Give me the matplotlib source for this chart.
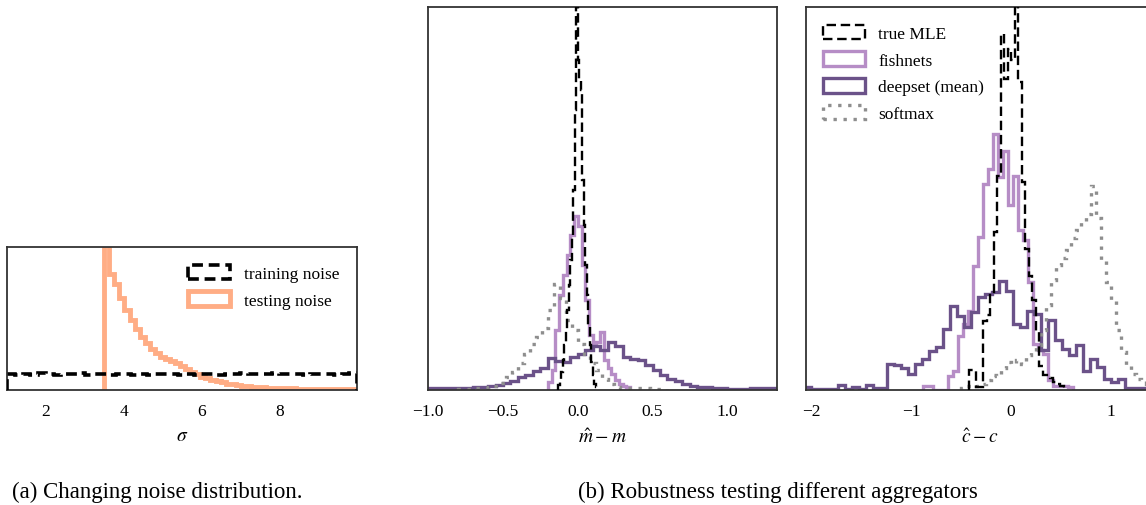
import numpy as np
import matplotlib
matplotlib.use("Agg")
import matplotlib.pyplot as plt
from matplotlib.patches import Patch

plt.rcParams['font.family'] = ['Liberation Serif', 'DejaVu Serif']
plt.rcParams['mathtext.fontset'] = 'stix'

# --- (a) noise distributions: bin start, bin width, counts ---
train_start, train_width = 1.0, 0.2
train_counts = [16, 15, 16, 15, 17, 16, 15, 16, 16, 17,
                15, 16, 16, 15, 16, 16, 15, 16, 15, 16,
                16, 16, 15, 16, 15, 16, 16, 15, 16, 16,
                17, 16, 16, 16, 17, 16, 16, 16, 15, 16,
                16, 16, 15, 16, 17]

test_start, test_width = 3.5, 0.13
test_counts = [160, 116, 106, 92, 80, 70, 61, 53, 47, 41,
               37, 33, 31, 29, 27, 24, 21, 18, 16, 13,
               12, 10, 9, 8, 6, 6, 5, 4, 4, 3,
               3, 3, 2, 2, 2, 2, 2, 2, 1, 1,
               1, 1, 1, 1, 1, 1, 1, 1, 1, 1]

# --- (b) residuals of m ---
m_mle_start, m_mle_width = -0.13, 0.01
m_mle = [5, 10, 18, 30, 45, 60, 80, 105, 130, 155, 200, 280, 420,
         330, 310, 300, 210, 165, 125, 95, 65, 45, 28, 15, 6, 3]

m_fish_start, m_fish_width = -0.2, 0.025
m_fish = [8, 20, 60, 95, 115, 135, 155, 174, 164, 125, 90,
          55, 46, 48, 58, 30, 22, 16, 10, 6, 4, 3]

m_deep_start, m_deep_width = -1.0, 0.05
m_deep = [2, 2, 2, 2, 2, 2, 3, 3, 4, 5, 7, 9, 13, 15, 19, 22,
          32, 29, 28, 33, 36, 40, 44, 40, 48, 44, 33, 31, 30, 25,
          20, 15, 11, 9, 6, 4, 3, 3, 2, 2, 1, 1, 1, 2, 2, 2, 2]

m_soft_start, m_soft_width = -0.8, 0.04
m_soft = [1, 1, 1, 2, 2, 3, 4, 7, 13, 18, 27, 36, 46, 53, 62, 80,
          106, 92, 70, 60, 46, 36, 27, 20, 11, 6, 3, 2, 2, 2, 2, 2,
          1, 1, 1]

# --- (b) residuals of c ---
c_mle_start, c_mle_width = -0.42, 0.035
c_mle = [20, 20, 3, 3, 69, 75, 98, 158, 214, 356, 311, 341, 330, 420,
         308, 208, 141, 114, 90, 58, 24, 15, 15, 12, 8, 6, 4]

c_fish_start, c_fish_width = -0.88, 0.05
c_fish = [4, 4, 0, 0, 0, 14, 19, 54, 66, 79, 124, 153, 206, 221, 256,
          213, 239, 185, 214, 160, 150, 108, 46, 40, 36, 10, 4, 4, 4, 3]

c_deep_start, c_deep_width = -2.08, 0.07
c_deep = [3, 1, 1, 1, 1, 5, 1, 3, 1, 5, 2, 2, 26, 25, 22, 16, 26, 31,
          39, 43, 61, 84, 74, 63, 78, 93, 96, 98, 109, 99, 66, 63, 79,
          76, 40, 70, 50, 41, 35, 45, 19, 31, 23, 11, 8, 11, 2, 2, 2, 2]

c_soft_start, c_soft_width = -0.5, 0.05
c_soft = [2, 4, 5, 4, 6, 10, 15, 14, 22, 28, 26, 30, 26, 35, 38, 45,
          60, 85, 110, 125, 132, 140, 152, 160, 168, 176, 204, 172, 130,
          108, 90, 60, 38, 25, 16, 11, 9, 6, 4, 3]

ORANGE = '#ffad85'
FISH = '#b68dc6'
DEEP = '#6b5289'
SOFT = '#8e8e8e'

# line styles shared by the histograms and their legend boxes
STY_TRAIN = dict(color='black', lw=2.6, ls=(0, (3, 1.6)))
STY_TEST = dict(color=ORANGE, lw=3.5)
STY_MLE = dict(color='black', lw=1.7, ls=(0, (4, 2)))
STY_FISH = dict(color=FISH, lw=2.4)
STY_DEEP = dict(color=DEEP, lw=2.4)
STY_SOFT = dict(color=SOFT, lw=2.4, ls=(0, (1, 2)))


def edges(start, width, counts):
    return start + width * np.arange(len(counts) + 1)


def step(ax, start, width, counts, sty, zorder=2):
    return ax.stairs(counts, edges(start, width, counts), baseline=0,
                     fill=False, zorder=zorder, **sty)


def box(sty, label):
    return Patch(facecolor='none', edgecolor=sty['color'],
                 linewidth=sty['lw'], linestyle=sty.get('ls', '-'),
                 label=label)


def style(ax):
    for s in ax.spines.values():
        s.set_color('#333333')
        s.set_linewidth(1.3)
    ax.set_yticks([])
    ax.tick_params(axis='x', length=0, pad=9, labelsize=12.5)


LEG = dict(frameon=False, fontsize=12.5, handlelength=2.4, handleheight=0.9,
           borderaxespad=0.6, labelspacing=0.55)

fig = plt.figure(figsize=(11.46, 5.06), dpi=100)
ax_a = fig.add_axes([0.0064, 0.2263, 0.3049, 0.283])
ax_m = fig.add_axes([0.3737, 0.2263, 0.3040, 0.7573])
ax_c = fig.add_axes([0.7029, 0.2263, 0.3040, 0.7573])

# (a)
step(ax_a, train_start, train_width, train_counts, STY_TRAIN, zorder=3)
step(ax_a, test_start, test_width, test_counts, STY_TEST)
ax_a.set_xlim(1.01, 9.99)
ax_a.set_ylim(0, 143)
ax_a.set_xticks([2, 4, 6, 8])
ax_a.set_xlabel(r'$\sigma$', fontsize=14, labelpad=6)
style(ax_a)
ax_a.legend(handles=[box(STY_TRAIN, 'training noise'),
                     box(STY_TEST, 'testing noise')],
            loc='upper right', **LEG)

# (b) m
step(ax_m, m_fish_start, m_fish_width, m_fish, STY_FISH)
step(ax_m, m_deep_start, m_deep_width, m_deep, STY_DEEP)
step(ax_m, m_soft_start, m_soft_width, m_soft, STY_SOFT)
step(ax_m, m_mle_start, m_mle_width, m_mle, STY_MLE, zorder=3)
ax_m.set_xlim(-1.0, 1.33)
ax_m.set_ylim(0, 383)
ax_m.set_xticks([-1.0, -0.5, 0.0, 0.5, 1.0])
ax_m.set_xticklabels(['\u22121.0', '\u22120.5', '0.0', '0.5', '1.0'])
ax_m.set_xlabel(r'$\hat{m} - m$', fontsize=14, labelpad=6)
style(ax_m)

# (b) c
step(ax_c, c_fish_start, c_fish_width, c_fish, STY_FISH)
step(ax_c, c_deep_start, c_deep_width, c_deep, STY_DEEP)
step(ax_c, c_soft_start, c_soft_width, c_soft, STY_SOFT)
step(ax_c, c_mle_start, c_mle_width, c_mle, STY_MLE, zorder=3)
ax_c.set_xlim(-2.06, 1.43)
ax_c.set_ylim(0, 383)
ax_c.set_xticks([-2, -1, 0, 1])
ax_c.set_xticklabels(['\u22122', '\u22121', '0', '1'])
ax_c.set_xlabel(r'$\hat{c} - c$', fontsize=14, labelpad=6)
style(ax_c)
ax_c.legend(handles=[box(STY_MLE, 'true MLE'), box(STY_FISH, 'fishnets'),
                     box(STY_DEEP, 'deepset (mean)'),
                     box(STY_SOFT, 'softmax')],
            loc='upper left', **LEG)

fig.text(12 / 1146, 0.027, '(a) Changing noise distribution.',
         fontsize=16.5, va='center', ha='left')
fig.text(578 / 1146, 0.027, '(b) Robustness testing different aggregators',
         fontsize=16.5, va='center', ha='left')

fig.savefig('out.png', dpi=100)
